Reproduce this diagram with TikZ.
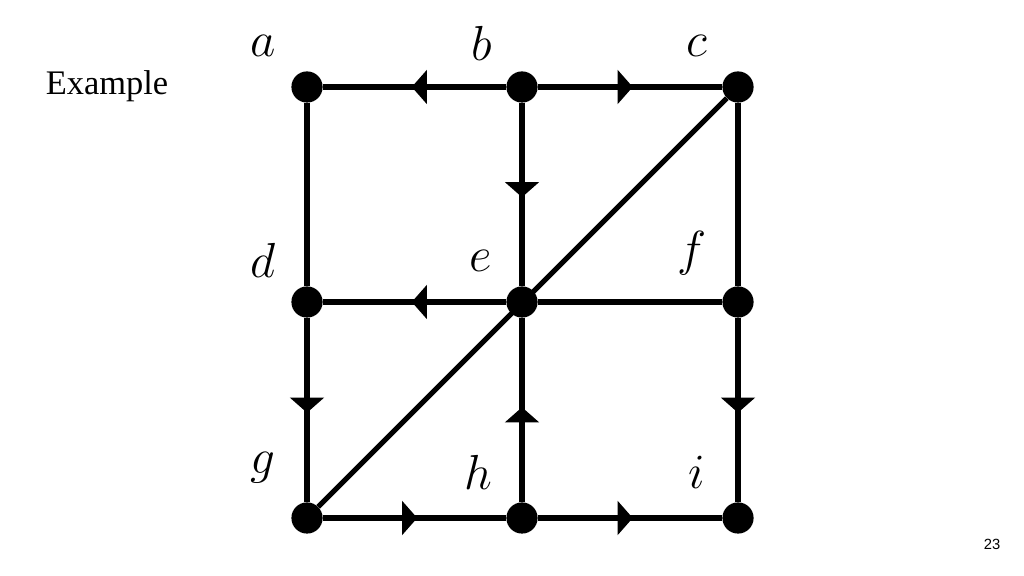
\RequirePackage{fix-cm}
\documentclass[tikz,border=0pt]{standalone}
\usepackage{fontspec}
\newfontfamily\slidefont{Liberation Serif}
\newfontfamily\pagefont{Liberation Sans}
\usetikzlibrary{arrows.meta,decorations.markings}
\begin{document}
\begin{tikzpicture}[x=0.025cm,y=0.025cm]
\tikzstyle{every node}+=[inner sep=0pt]
\tikzstyle{vertex}=[circle,fill=black,minimum size=0.78cm]
\tikzstyle{edge}=[line width=0.13cm]
\tikzstyle{dir}=[edge,postaction={decorate},decoration={markings,mark=at position 0.515 with {\arrow{Triangle[width=0.84cm,length=0.38cm]}}}]
\tikzstyle{lbl}=[font=\fontsize{35}{40}\selectfont]
\useasboundingbox (0,0) rectangle (1024,576);
\node [font=\slidefont\fontsize{24.5}{28}\selectfont] (title) at (107,490) {Example};
\node [font=\pagefont\fontsize{10.5}{12}\selectfont] (page) at (992,32) {23};
\node [vertex] (a) at (307,489) {};
\node [vertex] (b) at (522,489) {};
\node [vertex] (c) at (738,489) {};
\node [vertex] (d) at (307,274) {};
\node [vertex] (e) at (522,274) {};
\node [vertex] (f) at (738,274) {};
\node [vertex] (g) at (307,58) {};
\node [vertex] (h) at (522,58) {};
\node [vertex] (i) at (738,58) {};
\node [lbl] (la) at (263,530) {$a$};
\node [lbl] (lb) at (482,533) {$b$};
\node [lbl] (lc) at (697,530) {$c$};
\node [lbl] (ld) at (263,316) {$d$};
\node [lbl] (le) at (481,315) {$e$};
\node [lbl] (lf) at (692,323) {$f$};
\node [lbl] (lg) at (263,108) {$g$};
\node [lbl] (lh) at (478,104) {$h$};
\node [lbl] (li) at (697,104) {$i$};
\draw [dir] (b) -- (a);
\draw [dir] (b) -- (c);
\draw [dir] (b) -- (e);
\draw [edge] (a) -- (d);
\draw [edge] (c) -- (f);
\draw [edge] (c) -- (g);
\draw [dir] (e) -- (d);
\draw [edge] (e) -- (f);
\draw [dir] (d) -- (g);
\draw [dir] (h) -- (e);
\draw [dir] (f) -- (i);
\draw [dir] (g) -- (h);
\draw [dir] (h) -- (i);
\end{tikzpicture}
\end{document}
